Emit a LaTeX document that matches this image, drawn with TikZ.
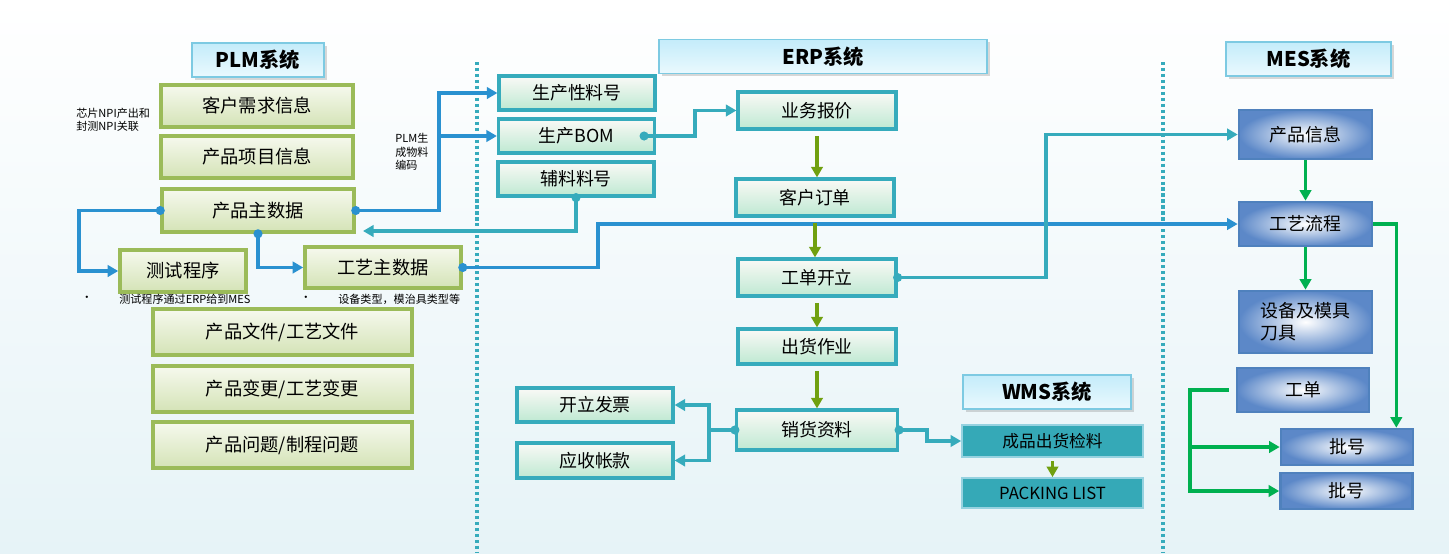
\documentclass[tikz,border=0pt]{standalone}
\usepackage{fontspec}
\setmainfont{Noto Sans CJK SC}
\usetikzlibrary{arrows.meta}
\usetikzlibrary{shadows}

\definecolor{plmgreen}{RGB}{155,187,89}
\definecolor{plmtop}{RGB}{246,249,238}
\definecolor{plmbottom}{RGB}{212,227,182}
\definecolor{erpteal}{RGB}{54,171,188}
\definecolor{erptop}{RGB}{250,249,246}
\definecolor{erpbottom}{RGB}{190,233,210}
\definecolor{titleborder}{RGB}{125,202,226}
\definecolor{titletop}{RGB}{196,236,250}
\definecolor{titlebottom}{RGB}{234,249,254}
\definecolor{mesborder}{RGB}{79,129,189}
\definecolor{mesouter}{RGB}{92,136,200}
\definecolor{wmsteal}{RGB}{53,169,183}
\definecolor{wmsborder}{RGB}{150,210,224}
\definecolor{plmblue}{RGB}{42,145,208}
\definecolor{olivegreen}{RGB}{112,160,16}
\definecolor{mesgreen}{RGB}{0,176,80}
\definecolor{bgbottom}{RGB}{230,243,247}

\newcommand{\JointDot}[2]{
\fill[#1] (#2) circle (2.6pt); % dot on the start of a connector
}

\begin{document}
\begin{tikzpicture}[x=0.2mm, y=-0.2mm, >={Triangle[length=6pt,width=6.5pt]},
title/.style={draw=titleborder, line width=0.9pt, top color=titletop, bottom color=titlebottom, inner sep=0, minimum height=6.8mm, font=\fontsize{11.5}{13}\selectfont\bfseries, drop shadow={opacity=.3, shadow xshift=.5mm, shadow yshift=-.5mm}},
plmbox/.style={draw=plmgreen, line width=2pt, top color=plmtop, bottom color=plmbottom, inner sep=0, minimum width=38.4mm, minimum height=8.4mm, font=\fontsize{10.4}{12}\selectfont},
erpbox/.style={draw=erpteal, line width=1.8pt, top color=erptop, bottom color=erpbottom, inner sep=0, minimum width=31.2mm, minimum height=6.8mm, font=\fontsize{10.2}{12}\selectfont},
mesbox/.style={draw=mesborder, line width=1.5pt, inner color=white, outer color=mesouter, inner sep=0, minimum width=26.6mm, font=\fontsize{10.2}{12.5}\selectfont},
wmsbox/.style={draw=wmsborder, line width=1pt, fill=wmsteal, inner sep=0, minimum width=36.2mm, font=\fontsize{9.5}{11}\selectfont},
note/.style={inner sep=0, align=left, font=\fontsize{6.3}{7.7}\selectfont},
plmline/.style={->, plmblue, line width=2.1pt},
erpline/.style={->, erpteal, line width=1.8pt},
erpflow/.style={->, olivegreen, line width=1.9pt, shorten <=3pt},
mesline/.style={->, mesgreen, line width=1.9pt},
separator/.style={erpteal, line width=2.1pt, dash pattern=on 1.8pt off 1.6pt},
]

%%%%%%%%%%%%%%%%%%%%%%%% BACKGROUND %%%%%%%%%%%%%%%%%%%%%%%%%%%
\path[use as bounding box, top color=white, bottom color=bgbottom] (0,0) rectangle (1449,553);

%%%%%%%%%%%%%%%%%%%%%%%% SEPARATORS %%%%%%%%%%%%%%%%%%%%%%%%%%%
\coordinate (PLMsepTop) at (477,62);
\coordinate (PLMsepBot) at (477,553);
\coordinate (MESsepTop) at (1163,62);
\coordinate (MESsepBot) at (1163,553);
\draw[separator] (PLMsepTop) -- (PLMsepBot);
\draw[separator] (MESsepTop) -- (MESsepBot);

%%%%%%%%%%%%%%%%%%%%%%%% PLM %%%%%%%%%%%%%%%%%%%%%%%%%%%
\node[title, minimum width=26.4mm] (PLMtitle) at (258,60) {PLM系统};
\node[plmbox] (kehu) at (257,106) {客户需求信息};
\node[plmbox] (xiangmu) at (257,157) {产品项目信息};
\node[plmbox, minimum height=8.6mm] (zhushuju) at (258,210.5) {产品主数据};
\node[plmbox, minimum width=25.2mm] (ceshi) at (183,271) {测试程序};
\node[plmbox, minimum width=31.2mm, minimum height=8.2mm] (gongyi) at (383,267.5) {工艺主数据};
\node[plmbox, minimum width=51.8mm, minimum height=9.2mm] (wenjian) at (282.5,332) {产品文件/工艺文件};
\node[plmbox, minimum width=51.8mm, minimum height=9.2mm] (biangeng) at (282.5,389) {产品变更/工艺变更};
\node[plmbox, minimum width=51.8mm, minimum height=9.2mm] (wenti) at (282.5,445) {产品问题/制程问题};

%%%%%%%%% NOTES %%%%%%%%%%%%%
\node[note, anchor=west] (npinote) at (76,120) {芯片NPI产出和\\封测NPI关联};
\node[note, anchor=west] (codenote) at (395,152) {PLM生\\成物料\\编码};
\node[note] (bulletA) at (87,299) {•};
\node[note, anchor=west] (ceshinote) at (119,299) {测试程序通过ERP给到MES};
\node[note] (bulletB) at (306,299) {•};
\node[note, anchor=west] (gongyinote) at (338,299) {设备类型，模治具类型等};

%%%%%%%%%%%%%%%%%%%%%%%% ERP %%%%%%%%%%%%%%%%%%%%%%%%%%%
\node[title, minimum width=65.6mm] (ERPtitle) at (823,56.5) {ERP系统};
\node[erpbox] (liaohao) at (577,93) {生产性料号};
\node[erpbox] (bom) at (576.5,136) {生产BOM};
\node[erpbox] (fuliao) at (576,179) {辅料料号};
\node[erpbox, minimum width=31.6mm, minimum height=7.4mm] (baojia) at (817,110.5) {业务报价};
\node[erpbox, minimum width=31.6mm, minimum height=7.4mm] (dingdan) at (815,197.5) {客户订单};
\node[erpbox, minimum width=31.6mm, minimum height=7.4mm] (kaili) at (817,277.5) {工单开立};
\node[erpbox, minimum width=31.6mm, minimum height=7mm] (chuhuo) at (817,346.5) {出货作业};
\node[erpbox, minimum width=32.2mm, minimum height=8mm] (xiaohuo) at (817,430) {销货资料};
\node[erpbox] (fapiao) at (595,405) {开立发票};
\node[erpbox, minimum height=7mm] (yingshou) at (595,460.5) {应收帐款};

%%%%%%%%%%%%%%%%%%%%%%%% WMS %%%%%%%%%%%%%%%%%%%%%%%%%%%
\node[title, minimum width=33.6mm] (WMStitle) at (1047,392) {WMS系统};
\node[wmsbox, minimum height=6.4mm] (jianliao) at (1052.5,441) {成品出货检料};
\node[wmsbox, minimum height=6mm] (packing) at (1052.5,493) {PACKING LIST};

%%%%%%%%%%%%%%%%%%%%%%%% MES %%%%%%%%%%%%%%%%%%%%%%%%%%%
\node[title, minimum width=33mm] (MEStitle) at (1308.5,59) {MES系统};
\node[mesbox, minimum height=9.8mm] (xinxi) at (1305.5,134.5) {产品信息};
\node[mesbox, minimum height=8.8mm] (liucheng) at (1305.5,224) {工艺流程};
\node[mesbox, minimum height=12.4mm, align=left] (shebei) at (1305.5,322) {设备及模具\\刀具};
\node[mesbox, minimum width=26.4mm, minimum height=8.8mm] (gongdan) at (1303,390) {工单};
\node[mesbox, minimum width=26.4mm, minimum height=7.2mm] (pihaoA) at (1347,447) {批号};
\node[mesbox, minimum width=26.4mm, minimum height=7.2mm] (pihaoB) at (1346.5,491) {批号};

%%%%%%%%%%%%%%%%%%%%%%%% PLM CONNECTORS %%%%%%%%%%%%%%%%%%%%%%%%%%%
\coordinate (plmbranch) at (439,150);
\draw[plmline] (zhushuju.east) -| (plmbranch) |- (liaohao.west);
\draw[plmline] (plmbranch |- bom.west) -- (bom.west);
\JointDot{plmblue}{zhushuju.east}

\coordinate (ceshibend) at (79,240);
\draw[plmline] (zhushuju.west) -| (ceshibend) |- (ceshi.west);
\JointDot{plmblue}{zhushuju.west}

\draw[plmline] (zhushuju.south) |- (gongyi.west);
\JointDot{plmblue}{zhushuju.south}

\coordinate (mesbend) at (598,245);
\draw[plmline] (gongyi.east) -| (mesbend) |- (liucheng.west);
\JointDot{plmblue}{gongyi.east}

%%%%%%%%%%%%%%%%%%%%%%%% ERP CONNECTORS %%%%%%%%%%%%%%%%%%%%%%%%%%%
\coordinate (fuliaoin) at (363,231);
\draw[erpline] (fuliao.south) |- (fuliaoin);
\JointDot{erpteal}{fuliao.south}

\coordinate (bomout) at ([xshift=-2.4mm]bom.east);
\coordinate (bombend) at (695,120);
\draw[erpline] (bomout) -| (bombend) |- (baojia.west);
\JointDot{erpteal}{bomout}

\coordinate (xinxibend) at (1046,200);
\draw[erpline] (kaili.east) -| (xinxibend) |- (xinxi.west);
\JointDot{erpteal}{kaili.east}

\coordinate (fapiaobend) at (709,430);
\draw[erpline] (xiaohuo.west) -| (fapiaobend) |- (fapiao.east);
\draw[erpline] (xiaohuo.west) -| (fapiaobend) |- (yingshou.east);
\JointDot{erpteal}{xiaohuo.west}

\coordinate (wmsbend) at (927,436);
\draw[erpline] (xiaohuo.east) -| (wmsbend) |- (jianliao.west);
\JointDot{erpteal}{xiaohuo.east}

\draw[erpflow] (baojia) -- (baojia |- dingdan.north);
\draw[erpflow] (dingdan) -- (dingdan |- kaili.north);
\draw[erpflow] (kaili) -- (chuhuo);
\draw[erpflow] (chuhuo) -- (xiaohuo);
\draw[erpflow, shorten <=2pt] (jianliao) -- (packing);

%%%%%%%%%%%%%%%%%%%%%%%% MES CONNECTORS %%%%%%%%%%%%%%%%%%%%%%%%%%%
\draw[mesline] (xinxi) -- (liucheng);
\draw[mesline] (liucheng) -- (shebei);
\coordinate (pihaoin) at ([xshift=-3.6mm]pihaoA.north east);
\draw[mesline] (liucheng.east) -| (pihaoin);

\coordinate (gongdanout) at ([xshift=-1.4mm]gongdan.west);
\coordinate (gongdanbend) at (1190,440);
\draw[mesline] (gongdanout) -| (gongdanbend) |- (pihaoA.west);
\draw[mesline] (gongdanout) -| (gongdanbend) |- (pihaoB.west);

\end{tikzpicture}
\end{document}
